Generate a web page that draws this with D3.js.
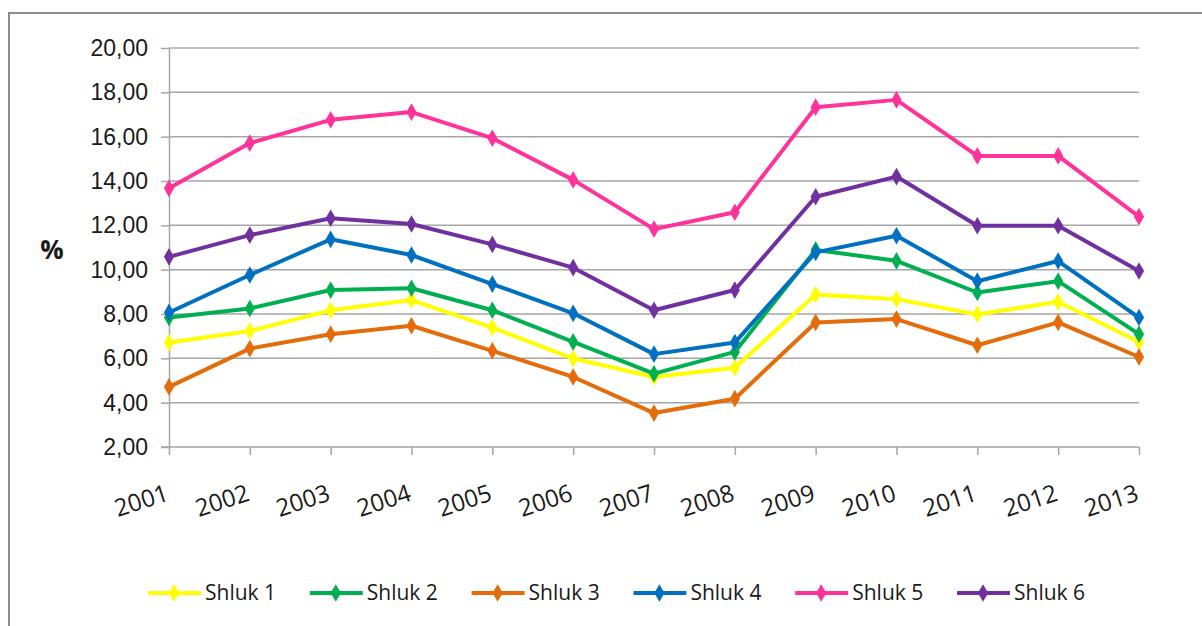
<script src="https://d3js.org/d3.v7.min.js"></script>
<style>
body { margin: 0; background: #fff; }
svg { display: block; font-family: "Open Sans", "Liberation Sans", sans-serif; }
.grid line { stroke: #a6a6a6; stroke-width: 1.5; }
.axis path, .axis line { stroke: #a6a6a6; stroke-width: 1.5; }
.axis text { fill: #1a1a1a; font-size: 23px; }
.xlab text { fill: #1a1a1a; font-size: 24px; }
.legend text { fill: #1a1a1a; font-size: 21px; }
</style>
<svg id="chart" width="1202" height="626"></svg>
<script>
const years = ["2001","2002","2003","2004","2005","2006","2007","2008","2009","2010","2011","2012","2013"];
const seriesNames = ["Shluk 1","Shluk 2","Shluk 3","Shluk 4","Shluk 5","Shluk 6"];
const seriesColors = ["#ffff00","#00b050","#e46c0a","#0070c0","#ff3399","#7030a0"];
const shluk1 = [6.71, 7.23, 8.17, 8.63, 7.39, 5.99, 5.16, 5.58, 8.88, 8.67, 7.98, 8.55, 6.74];
const shluk2 = [7.84, 8.25, 9.08, 9.16, 8.17, 6.74, 5.31, 6.29, 10.89, 10.40, 8.97, 9.48, 7.09];
const shluk3 = [4.71, 6.44, 7.09, 7.47, 6.34, 5.16, 3.53, 4.18, 7.62, 7.77, 6.59, 7.62, 6.06];
const shluk4 = [8.07, 9.76, 11.37, 10.66, 9.35, 8.03, 6.19, 6.71, 10.78, 11.53, 9.48, 10.39, 7.84];
const shluk5 = [13.67, 15.71, 16.76, 17.11, 15.93, 14.05, 11.83, 12.59, 17.33, 17.66, 15.13, 15.13, 12.39];
const shluk6 = [10.58, 11.56, 12.32, 12.06, 11.14, 10.09, 8.17, 9.08, 13.29, 14.20, 11.98, 11.98, 9.94];
const yTicks = [2, 4, 6, 8, 10, 12, 14, 16, 18, 20];

const allSeries = [shluk1, shluk2, shluk3, shluk4, shluk5, shluk6];
const svg = d3.select("#chart");

// chart frame (runs off the right/bottom like the source)
svg.append("rect").attr("x", 9).attr("y", 13).attr("width", 1250).attr("height", 700)
  .attr("fill", "none").attr("stroke", "#8c8c8c").attr("stroke-width", 2);

const x = d3.scalePoint().domain(years).range([169, 1139]);
const y = d3.scaleLinear().domain([2, 20]).range([447, 48]);
const fmt = d => d3.format(".2f")(d).replace(".", ",");

// gridlines
svg.append("g").attr("class", "grid").selectAll("line").data(yTicks.slice(1)).join("line")
  .attr("x1", 169).attr("x2", 1139).attr("y1", d => y(d)).attr("y2", d => y(d));

// y axis
svg.append("g").attr("class", "axis").attr("transform", "translate(169,0)")
  .call(d3.axisLeft(y).tickValues(yTicks).tickFormat(fmt).tickSize(8).tickSizeOuter(0).tickPadding(13));

// x axis
const xAxis = svg.append("g").attr("class", "axis").attr("transform", "translate(0,447)")
  .call(d3.axisBottom(x).tickSize(8).tickSizeOuter(0).tickFormat(""));
xAxis.select(".domain").attr("d", "M161,0H1139");
svg.append("g").attr("class", "xlab").selectAll("text").data(years).join("text")
  .attr("text-anchor", "end")
  .attr("transform", d => `translate(${x(d) + 1},${500}) rotate(-18)`)
  .text(d => d);

svg.append("text").attr("x", 52).attr("y", 259).attr("text-anchor", "middle")
  .attr("font-size", 26).attr("font-weight", "bold").attr("fill", "#1a1a1a").text("%");

const line = d3.line().x((d, i) => x(years[i])).y(d => y(d));
const diamond = d3.symbol().type(d3.symbolDiamond).size(90);

allSeries.forEach((vals, si) => {
  const g = svg.append("g");
  g.append("path").attr("d", line(vals)).attr("fill", "none")
    .attr("stroke", seriesColors[si]).attr("stroke-width", 4).attr("stroke-linejoin", "round");
  g.selectAll("path.m").data(vals).join("path").attr("class", "m")
    .attr("d", diamond)
    .attr("transform", (d, i) => `translate(${x(years[i])},${y(d)})`)
    .attr("fill", seriesColors[si]);
});

// legend
const lx = d3.scalePoint().domain(seriesNames).range([148, 957]);
const leg = svg.append("g").attr("class", "legend").selectAll("g").data(seriesNames).join("g")
  .attr("transform", d => `translate(${lx(d)},593)`);
leg.append("line").attr("x1", 0).attr("x2", 53).attr("stroke", (d, i) => seriesColors[i]).attr("stroke-width", 4);
leg.append("path").attr("d", diamond).attr("transform", "translate(26,0)").attr("fill", (d, i) => seriesColors[i]);
leg.append("text").attr("x", 57).attr("dy", "0.35em").text(d => d);
</script>
